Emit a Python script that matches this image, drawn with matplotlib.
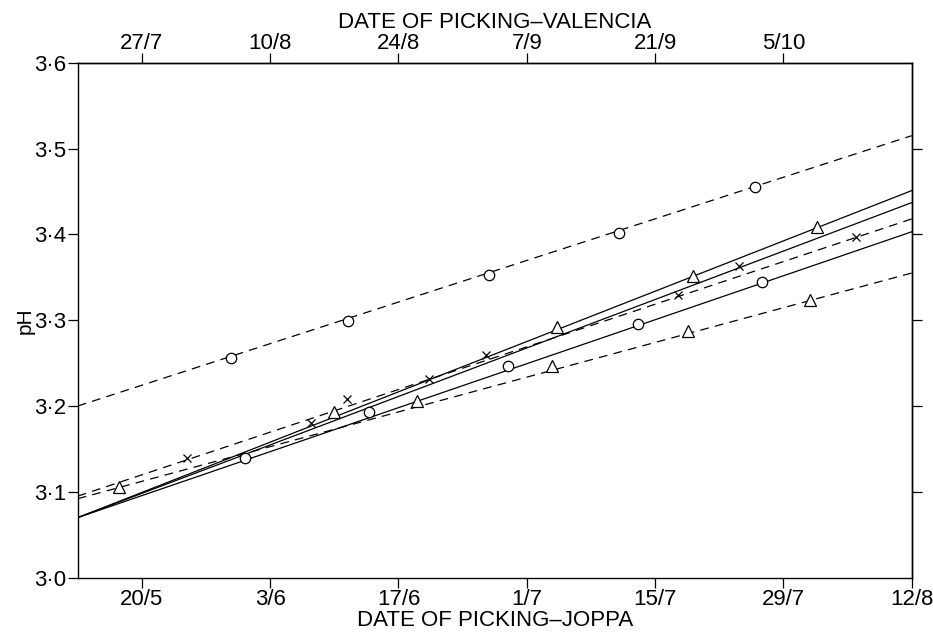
"""
pH of juice against date of picking, Joppa (bottom axis) and Valencia (top axis).
"""

import datetime as dt

import matplotlib
matplotlib.use("Agg")
import matplotlib.pyplot as plt


# x positions are days counted from 13/5 (Joppa); Valencia dates run 68 days later
JOPPA_START = dt.date(2001, 5, 13)
VALENCIA_LAG_DAYS = 68
X_RANGE_DAYS = (0, 91)

JOPPA_TICKS = ["20/5", "3/6", "17/6", "1/7", "15/7", "29/7", "12/8"]
VALENCIA_TICKS = ["27/7", "10/8", "24/8", "7/9", "21/9", "5/10"]

PH_TICKS = [3.0, 3.1, 3.2, 3.3, 3.4, 3.5, 3.6]
PH_TICK_LABELS = ["3·0", "3·1", "3·2", "3·3", "3·4", "3·5", "3·6"]
PH_RIGHT_TICKS = [3.1, 3.2, 3.3, 3.4, 3.5]

# fitted lines: pH at the left (13/5) and right (12/8) edges of the plot
LINE_START_PH = [3.200, 3.095, 3.092, 3.070, 3.070, 3.070]
LINE_END_PH = [3.515, 3.418, 3.355, 3.451, 3.437, 3.403]

# plotted points, one pair of lists per line
CIRCLE_DASHED_DAYS = [16.7, 29.5, 44.9, 59.1, 73.9]
CIRCLE_DASHED_PH = [3.256, 3.299, 3.353, 3.402, 3.455]

CROSS_DASHED_DAYS = [11.9, 29.4, 44.6, 65.5, 84.9]
CROSS_DASHED_PH = [3.140, 3.208, 3.259, 3.329, 3.397]

TRIANGLE_DASHED_DAYS = [4.5, 37.0, 51.7, 66.6, 79.9]
TRIANGLE_DASHED_PH = [3.106, 3.206, 3.247, 3.287, 3.324]

TRIANGLE_SOLID_DAYS = [28.0, 52.3, 67.1, 80.7]
TRIANGLE_SOLID_PH = [3.193, 3.292, 3.352, 3.409]

CROSS_SOLID_DAYS = [25.4, 38.3, 72.2]
CROSS_SOLID_PH = [3.180, 3.232, 3.363]

CIRCLE_SOLID_DAYS = [18.3, 31.8, 46.9, 61.1, 74.7]
CIRCLE_SOLID_PH = [3.140, 3.193, 3.247, 3.296, 3.345]


def day_number(label: str, start: dt.date) -> int:
    day, month = (int(part) for part in label.split("/"))
    return (dt.date(start.year, month, day) - start).days


def main() -> None:
    plt.rcParams["font.family"] = ["Liberation Sans", "DejaVu Sans"]
    tick_font = ["Liberation Sans Narrow", "Liberation Sans", "DejaVu Sans"]

    series = [
        (CIRCLE_DASHED_DAYS, CIRCLE_DASHED_PH, "o", "dashed"),
        (CROSS_DASHED_DAYS, CROSS_DASHED_PH, "x", "dashed"),
        (TRIANGLE_DASHED_DAYS, TRIANGLE_DASHED_PH, "^", "dashed"),
        (TRIANGLE_SOLID_DAYS, TRIANGLE_SOLID_PH, "^", "solid"),
        (CROSS_SOLID_DAYS, CROSS_SOLID_PH, "x", "solid"),
        (CIRCLE_SOLID_DAYS, CIRCLE_SOLID_PH, "o", "solid"),
    ]
    marker_sizes = {"o": 7.5, "^": 8.5, "x": 6.0}

    fig = plt.figure(figsize=(9.33, 6.36), dpi=100)
    ax = fig.add_axes([0.0833, 0.0917, 0.8939, 0.8097])

    for (days, ph, marker, style), y0, y1 in zip(series, LINE_START_PH, LINE_END_PH):
        (line,) = ax.plot(X_RANGE_DAYS, [y0, y1], color="black", lw=0.9, zorder=2)
        if style == "dashed":
            line.set_dashes([7, 5])
        ax.plot(
            days,
            ph,
            linestyle="none",
            marker=marker,
            markersize=marker_sizes[marker],
            markerfacecolor="white" if marker != "x" else "black",
            markeredgecolor="black",
            markeredgewidth=0.9,
            zorder=3,
        )

    ax.set_xlim(*X_RANGE_DAYS)
    ax.set_ylim(PH_TICKS[0], PH_TICKS[-1])

    ax.set_xticks([day_number(lab, JOPPA_START) for lab in JOPPA_TICKS])
    ax.set_xticklabels(JOPPA_TICKS, family=tick_font, fontsize=16)
    ax.set_yticks(PH_TICKS)
    ax.set_yticklabels(PH_TICK_LABELS, family=tick_font, fontsize=16)
    ax.tick_params(direction="out", length=7, width=0.9, pad=1)
    ax.set_xlabel("DATE OF PICKING–JOPPA", fontsize=16, labelpad=0)
    ax.set_ylabel("pH", fontsize=15, labelpad=0)

    valencia_start = JOPPA_START + dt.timedelta(days=VALENCIA_LAG_DAYS)
    top = ax.secondary_xaxis("top")
    top.set_xticks([day_number(lab, valencia_start) for lab in VALENCIA_TICKS])
    top.set_xticklabels(VALENCIA_TICKS, family=tick_font, fontsize=16)
    top.tick_params(direction="out", length=7, width=0.9, pad=-1)
    top.set_xlabel("DATE OF PICKING–VALENCIA", fontsize=16, labelpad=4)

    right = ax.secondary_yaxis("right")
    right.set_yticks(PH_RIGHT_TICKS)
    right.set_yticklabels([])
    right.tick_params(direction="out", length=7, width=0.9)

    for spine in ax.spines.values():
        spine.set_linewidth(1.0)
    for axis in (top, right):
        for spine in axis.spines.values():
            spine.set_linewidth(1.0)

    fig.savefig("out.png", dpi=100)
    plt.close(fig)


if __name__ == "__main__":
    main()
